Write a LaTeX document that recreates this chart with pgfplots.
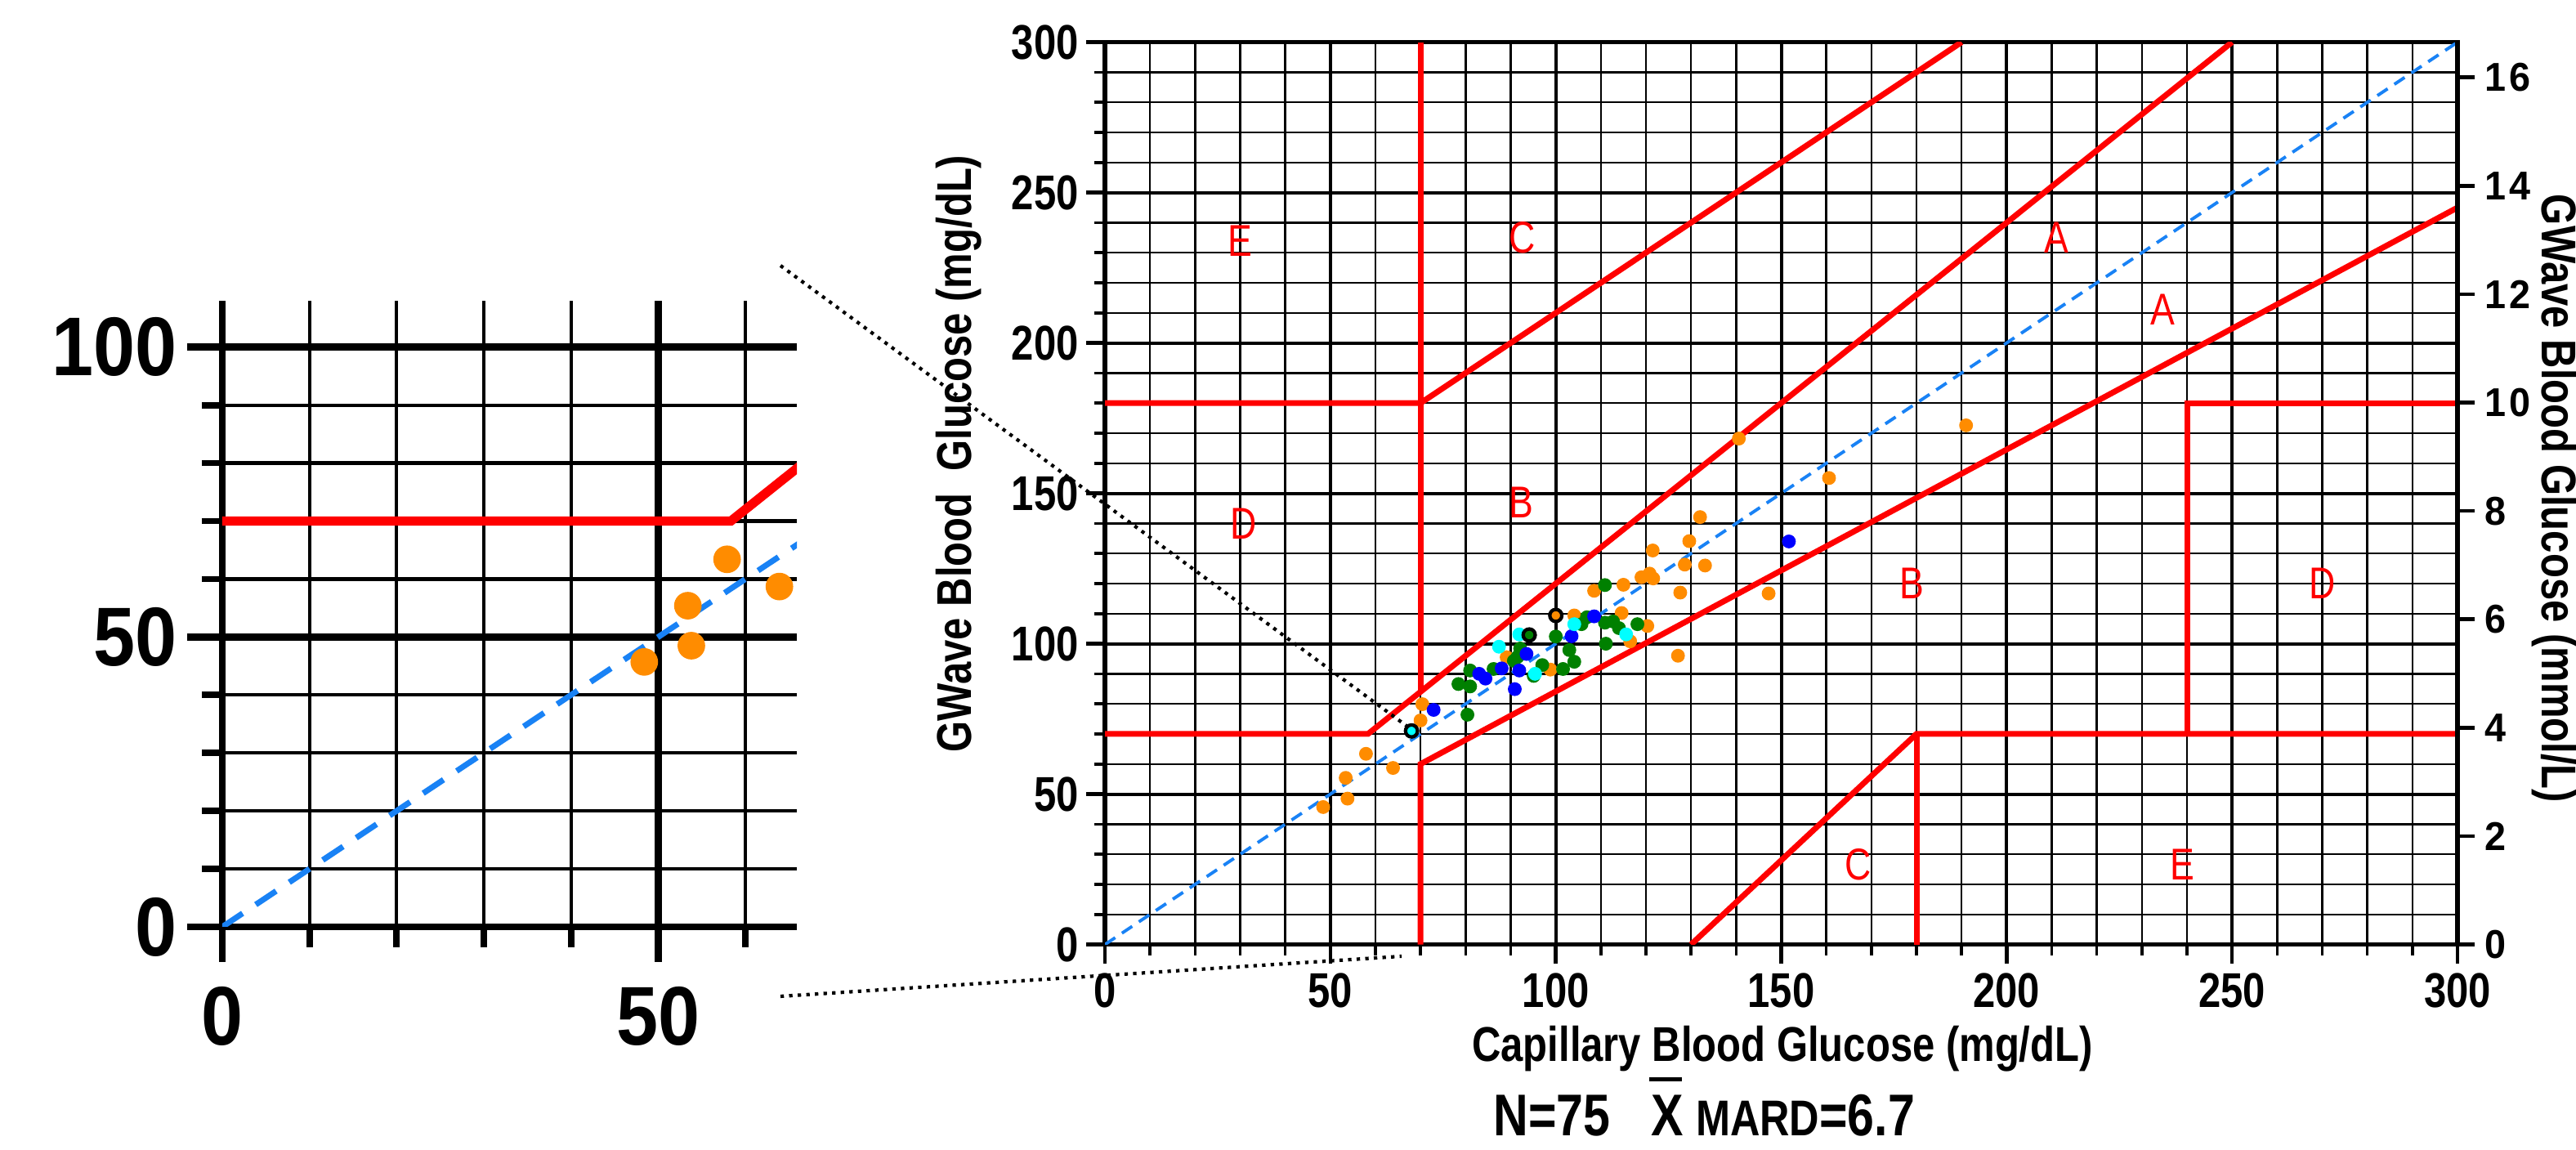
\documentclass[border=0pt]{standalone}
\usepackage{fontspec}
\setmainfont{Liberation Sans}
\newfontfamily\narrowfont{Liberation Sans}[FakeStretch=0.82]
\newfontfamily\rightfont{Liberation Sans}[FakeStretch=0.95, LetterSpace=8]
\newfontfamily\insetfont{Liberation Sans}[FakeStretch=0.9]
\usepackage{pgfplots}
\usepackage{pgfplotstable}
\pgfplotsset{compat=1.18}
\definecolor{gOrange}{RGB}{255,140,0}
\definecolor{gGreen}{RGB}{0,128,0}
\definecolor{gBlue}{RGB}{0,0,255}
\definecolor{gCyan}{RGB}{0,255,255}
\definecolor{gRed}{RGB}{255,0,0}
\definecolor{dashblue}{RGB}{25,130,245}
\tikzset{zone/.style={text=gRed, font=\fontsize{15.5}{17}\selectfont\narrowfont, inner sep=0pt}}

\pgfplotstableread{
x y
48.4 45.7
53.4 55.4
53.8 48.5
57.9 63.4
63.9 58.7
70.0 74.5
70.4 79.9
89.1 95.5
98.8 91.4
104.1 109.4
108.5 117.6
114.6 110.2
115.0 119.6
116.5 100.8
119.0 122.1
120.3 105.9
120.8 123.3
121.6 121.7
121.5 131.0
127.1 96.0
127.6 117.0
128.6 126.3
129.6 134.1
132.0 142.1
133.1 126.0
140.6 168.2
147.2 116.7
160.6 155.1
191.0 172.6
}\orangedata

\pgfplotstableread{
x y
110.9 119.5
106.9 108.8
105.7 106.5
110.9 107.0
112.7 107.4
114.0 105.2
118.1 106.5
111.1 100.0
100.0 102.4
103.0 97.9
104.1 94.0
101.6 91.6
97.0 92.9
95.1 89.3
92.1 98.4
91.5 95.6
90.7 94.3
86.2 91.6
81.0 91.1
78.4 86.6
81.0 85.8
80.4 76.4
}\greendata

\pgfplotstableread{
x y
108.5 109.1
103.5 102.5
93.5 96.6
88.0 91.8
91.9 91.1
83.0 90.0
84.4 88.4
90.9 84.9
72.9 78.0
151.7 134.0
}\bluedata

\pgfplotstableread{
x y
104.1 106.5
91.9 103.1
87.4 99.0
95.4 90.0
115.6 103.1
}\cyandata

\pgfplotstableread{
x y
68.0 71.0
}\ringcyan
\pgfplotstableread{
x y
100.0 109.4
}\ringorange
\pgfplotstableread{
x y
94.1 102.9
}\ringgreen

\begin{document}
\begin{tikzpicture}
\useasboundingbox (0,0) rectangle (31.52,14.07);

% ---------------- main Clarke grid ----------------
\begin{axis}[
  at={(13.52cm,2.514cm)}, anchor=south west, scale only axis,
  width=16.55cm, height=11.04cm,
  xmin=0, xmax=300, ymin=0, ymax=300,
  xtick={0,50,...,300}, ytick={0,50,...,300},
  minor xtick={10,20,...,290}, minor ytick={10,20,...,290},
  xtick pos=left, ytick pos=left,
  tick align=outside,
  major tick length=0.23cm, minor tick length=0.13cm,
  major tick style={black, line width=1.3pt},
  minor tick style={black, line width=1.0pt},
  grid=both,
  major grid style={black, line width=1.15pt},
  minor grid style={black, line width=0.7pt},
  axis line style={black, line width=1.6pt},
  tick label style={font=\fontsize{17}{19}\selectfont\narrowfont\bfseries},
  yticklabel style={xshift=0.03cm},
  /pgf/number format/assume math mode=true,
]
\addplot[dashblue, line width=1.1pt, dash pattern=on 4.3pt off 2.8pt] coordinates {(0,0)(300,300)};
\addplot[gRed, line width=2pt] coordinates {(0,70)(58.33,70)(250,300)};
\addplot[gRed, line width=2pt] coordinates {(70,84)(70,300)};
\addplot[gRed, line width=2pt] coordinates {(0,180)(70,180)(190,300)};
\addplot[gRed, line width=2pt] coordinates {(70,0)(70,60)(300,245)};
\addplot[gRed, line width=2pt] coordinates {(130,0)(180,70)(300,70)};
\addplot[gRed, line width=2pt] coordinates {(180,0)(180,70)};
\addplot[gRed, line width=2pt] coordinates {(240,70)(240,180)(300,180)};

\addplot[only marks, mark=*, color=gOrange, mark size=2.2pt] table {\orangedata};
\addplot[only marks, mark=*, color=gGreen, mark size=2.2pt] table {\greendata};
\addplot[only marks, mark=*, color=gBlue, mark size=2.2pt] table {\bluedata};
\addplot[only marks, mark=*, color=gCyan, mark size=2.2pt] table {\cyandata};
\addplot[only marks, mark=*, mark size=2.1pt, mark options={draw=black, line width=1.2pt, fill=gCyan}] table {\ringcyan};
\addplot[only marks, mark=*, mark size=2.1pt, mark options={draw=black, line width=1.2pt, fill=gOrange}] table {\ringorange};
\addplot[only marks, mark=*, mark size=2.1pt, mark options={draw=black, line width=1.2pt, fill=gGreen}] table {\ringgreen};

\node[zone] at (axis cs:30,234) {E};
\node[zone] at (axis cs:92.5,235) {C};
\node[zone] at (axis cs:211,235) {A};
\node[zone] at (axis cs:234.7,211) {A};
\node[zone] at (axis cs:92.3,147) {B};
\node[zone] at (axis cs:30.8,140) {D};
\node[zone] at (axis cs:179,120) {B};
\node[zone] at (axis cs:270,120) {D};
\node[zone] at (axis cs:167,26.5) {C};
\node[zone] at (axis cs:239,26.5) {E};
\end{axis}

% ---------------- right mmol/L axis ----------------
\begin{axis}[
  at={(13.52cm,2.514cm)}, anchor=south west, scale only axis,
  width=16.55cm, height=11.04cm,
  xmin=0, xmax=300, ymin=0, ymax=16.65,
  axis x line=none, axis y line*=right,
  ytick={0,2,...,16},
  tick align=outside, major tick length=0.21cm,
  major tick style={black, line width=1.3pt},
  axis line style={black, line width=1.8pt},
  tick label style={font=\fontsize{14}{16}\selectfont\rightfont\bfseries},
  /pgf/number format/assume math mode=true,
]
\end{axis}

% ---------------- inset ----------------
\begin{axis}[
  at={(2.72cm,2.73cm)}, anchor=south west, scale only axis,
  width=7.03cm, height=7.66cm,
  xmin=0, xmax=65.9, ymin=0, ymax=108,
  axis x line*=bottom, axis y line*=left,
  xtick={0,50}, minor xtick={10,20,30,40,60},
  ytick={0,50,100}, minor ytick={10,20,...,90},
  grid=both,
  major grid style={black, line width=2.4pt},
  minor grid style={black, line width=1.2pt},
  axis line style={black, line width=2.5pt},
  tick align=outside, major tick length=0.43cm, minor tick length=0.25cm,
  major tick style={black, line width=2.4pt},
  minor tick style={black, line width=2.2pt},
  tick label style={font=\fontsize{29}{33}\selectfont\insetfont\bfseries},
  xticklabel style={yshift=-0.18cm},
  /pgf/number format/assume math mode=true,
]
\addplot[dashblue, line width=2pt, dash pattern=on 8.5pt off 5.5pt] coordinates {(0,0)(108,108)};
\addplot[gRed, line width=3.2pt] coordinates {(0,70)(58.33,70)(90,108)};
\addplot[only marks, mark=*, color=gOrange, mark size=4.6pt] table {\orangedata};
\end{axis}

% ---------------- connectors ----------------
\draw[black, line width=1.2pt, dash pattern=on 1.2pt off 1.8pt] (9.55,10.82) -- (17.25,5.16);
\draw[black, line width=1.2pt, dash pattern=on 1.2pt off 1.8pt] (9.55,1.88) -- (17.15,2.37);

% ---------------- labels ----------------
\node[rotate=90, font=\fontsize{17}{19}\selectfont\narrowfont\bfseries, inner sep=0pt] at (11.73,8.52) {GWave Blood~~Glucose (mg/dL)};
\node[rotate=-90, font=\fontsize{17}{19}\selectfont\narrowfont\bfseries, inner sep=0pt] at (31.26,7.97) {GWave Blood Glucose (mmol/L)};
\node[anchor=base, font=\fontsize{17}{19}\selectfont\narrowfont\bfseries, inner sep=0pt] at (21.81,1.08) {Capillary Blood Glucose (mg/dL)};
\node[anchor=base west, font=\fontsize{20.5}{23}\selectfont\narrowfont\bfseries, inner sep=0pt] at (18.27,0.17)
  {N=75\hspace{0.5cm}\makebox[0pt][l]{\hspace{-0.03cm}\raisebox{0.67cm}{\rule{0.4cm}{0.045cm}}}X\hspace{0.15cm}{\fontsize{17.5}{20}\selectfont MARD}=6.7};
\end{tikzpicture}
\end{document}
